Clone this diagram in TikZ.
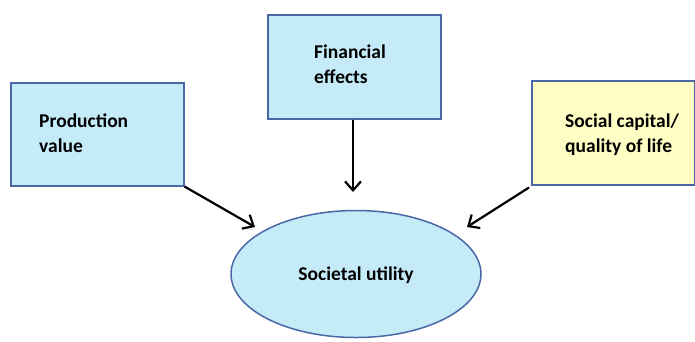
\documentclass[tikz,border=0pt]{standalone}
\usepackage{fontspec}
\setmainfont{Carlito}
\usetikzlibrary{arrows.meta,shapes.geometric}
\definecolor{boxblue}{HTML}{C5EBF9}
\definecolor{boxyellow}{HTML}{FFFFC5}
\definecolor{edgeblue}{HTML}{4A68A6}
\tikzset{
  x=1pt, y=-1pt,
  box/.style={draw=edgeblue, line width=1.5pt, rectangle, inner sep=0pt},
  lbl/.style={font=\fontsize{19.5}{25}\selectfont\bfseries, align=left, inner sep=0pt, anchor=base west},
  link/.style={line width=2.2pt, -{Straight Barb[length=9pt,width=16pt,line width=2.2pt]}}
}
\begin{document}
\begin{tikzpicture}
\useasboundingbox (0,0) rectangle (695,341);
% boxes
\node[box, fill=boxblue, minimum width=173pt, minimum height=103pt, anchor=north west] (prod) at (10,82) {};
\node[box, fill=boxblue, minimum width=173pt, minimum height=104pt, anchor=north west] (fin) at (267,14) {};
\node[box, fill=boxyellow, minimum width=163pt, minimum height=104pt, anchor=north west] (soc) at (531,80) {};
\node[ellipse, draw=edgeblue, line width=1.5pt, fill=boxblue, minimum width=250pt, minimum height=127pt, inner sep=0pt] (util) at (356,274) {};
% labels (anchor at baseline of last line)
\node[lbl] (prodt) at (39,152) {Production\\value};
\node[lbl] (fint) at (314,83) {Financial\\effects};
\node[lbl] (soct) at (565,152) {Social capital/\\quality of life};
\node[lbl, anchor=base] (utilt) at (356,280) {Societal utility};
% arrow ends
\coordinate (e1) at (255,227);
\coordinate (e2) at (353,192);
\coordinate (e3) at (467,227);
\draw[link] (prod.south east) -- (e1);
\draw[link] (fin.south -| e2) -- (e2);
\draw[link] ([xshift=-2pt,yshift=-2pt]soc.south west) -- (e3);
\end{tikzpicture}
\end{document}
